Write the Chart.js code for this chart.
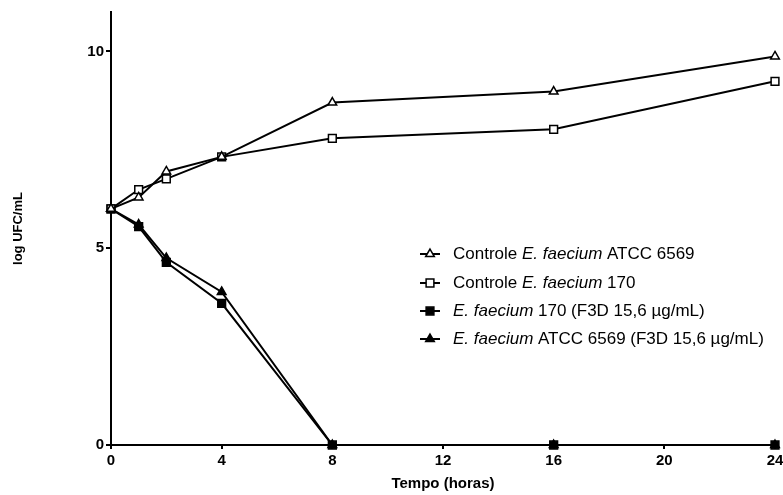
<!DOCTYPE html>
<html><head><meta charset="utf-8">
<script src="https://cdn.jsdelivr.net/npm/chart.js@4/dist/chart.umd.min.js"></script>
<style>html,body{margin:0;padding:0;background:#fff}#wrap{width:783px;height:495px}</style>
</head><body><div id="wrap"><canvas id="c" width="783" height="495"></canvas></div>
<script>
const hours = [0, 1, 2, 4, 8, 16, 24];
const controlATCC = [6.0, 6.29, 6.95, 7.32, 8.7, 8.98, 9.87];
const control170 = [6.0, 6.49, 6.76, 7.32, 7.79, 8.02, 9.24];
const f3d170 = [6.0, 5.55, 4.64, 3.6, 0, 0, 0];
const f3dATCC = [6.0, 5.6, 4.75, 3.89, 0, 0, 0];
const xTicks = [0, 4, 8, 12, 16, 20, 24];
const yTicks = [0, 5, 10];
const legendParts = [
  [["Controle ", false], ["E. faecium", true], [" ATCC 6569", false]],
  [["Controle ", false], ["E. faecium", true], [" 170", false]],
  [["E. faecium", true], [" 170 (F3D 15,6 \u00b5g/mL)", false]],
  [["E. faecium", true], [" ATCC 6569 (F3D 15,6 \u00b5g/mL)", false]]
];

const FONT = "'Liberation Sans', Arial, sans-serif";
function pts(arr){ return hours.map((h,i)=>({x:h,y:arr[i]})); }

const datasets = [
  {label:'c1', data:pts(controlATCC), pointStyle:'triangle', pointRadius:5, backgroundColor:'#fff'},
  {label:'c2', data:pts(control170), pointStyle:'rect', pointRadius:5.5, backgroundColor:'#fff'},
  {label:'f2', data:pts(f3dATCC), pointStyle:'triangle', pointRadius:5, backgroundColor:'#000'},
  {label:'f1', data:pts(f3d170), pointStyle:'rect', pointRadius:5.5, backgroundColor:'#000'}
].map(d=>Object.assign({borderColor:'#000', borderWidth:2, pointBorderWidth:1.5, pointBorderColor:'#000', pointBackgroundColor:d.backgroundColor, showLine:true, tension:0, clip:false}, d));

const legendStyles = [
  {style:'triangle', fill:'#fff'},
  {style:'rect', fill:'#fff'},
  {style:'rect', fill:'#000'},
  {style:'triangle', fill:'#000'}
];

const legendPlugin = {
  id:'customLegend',
  afterDraw(chart){
    const ctx = chart.ctx;
    const x0 = 420, x1 = 440, tx = 453;
    const rows = [254, 283, 311, 339];
    ctx.save();
    rows.forEach((y,i)=>{
      ctx.strokeStyle = '#000'; ctx.lineWidth = 2;
      ctx.beginPath(); ctx.moveTo(x0,y); ctx.lineTo(x1,y); ctx.stroke();
      const st = legendStyles[i];
      ctx.fillStyle = st.fill; ctx.lineWidth = 1.5;
      Chart.helpers.drawPoint(ctx, {pointStyle:st.style, radius: st.style==='rect'?5.5:5, borderWidth:1.5}, (x0+x1)/2, y);
      let x = tx;
      ctx.fillStyle = '#000'; ctx.textBaseline = 'middle';
      legendParts[i].forEach(([t,it])=>{
        ctx.font = (it?'italic ':'') + '17px ' + FONT;
        ctx.fillText(t, x, y);
        x += ctx.measureText(t).width;
      });
    });
    ctx.restore();
  }
};

new Chart(document.getElementById('c'), {
  type:'scatter',
  data:{datasets},
  plugins:[legendPlugin],
  options:{
    responsive:false, animation:false,
    layout:{padding:{top:12, right:8, left:11, bottom:0}},
    plugins:{legend:{display:false}, tooltip:{enabled:false}},
    scales:{
      x:{type:'linear', min:0, max:24,
        afterBuildTicks:s=>{s.ticks = xTicks.map(v=>({value:v}));},
        afterFit:s=>{s.height = 50; s.paddingRight = 0; s.paddingLeft = 0;},
        grid:{display:true, drawOnChartArea:false, drawTicks:true, tickLength:4, color:'#000', lineWidth:2},
        border:{display:true, color:'#000', width:2},
        ticks:{color:'#000', font:{family:FONT, size:15, weight:'bold'}, padding:3, maxRotation:0, autoSkip:false},
        title:{display:true, text:'Tempo (horas)', color:'#000', font:{family:FONT, size:15, weight:'bold'}, padding:{top:0, bottom:2}}
      },
      y:{type:'linear', min:0, max:11,
        afterBuildTicks:s=>{s.ticks = yTicks.map(v=>({value:v}));},
        afterFit:s=>{s.width = 100; s.paddingTop = 0; s.paddingBottom = 0;},
        grid:{display:true, drawOnChartArea:false, drawTicks:true, tickLength:5, color:'#000', lineWidth:2},
        border:{display:true, color:'#000', width:2},
        ticks:{color:'#000', font:{family:FONT, size:15, weight:'bold'}, padding:2, autoSkip:false},
        title:{display:true, text:'log UFC/mL', color:'#000', font:{family:FONT, size:13, weight:'bold'}, padding:{top:0,bottom:0}}
      }
    }
  }
});
</script></body></html>
